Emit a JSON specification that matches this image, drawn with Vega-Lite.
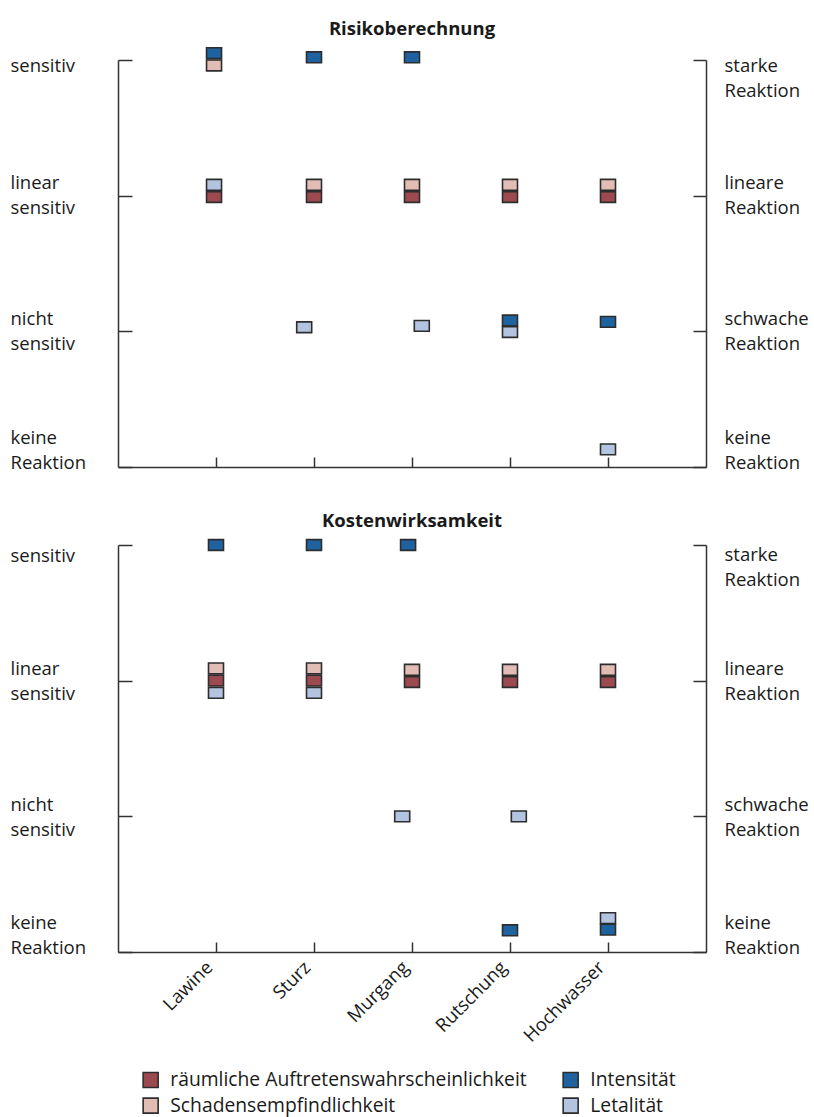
{
  "$schema": "https://vega.github.io/schema/vega-lite/v6.json",
  "padding": {"left": 10, "top": 20, "right": 0, "bottom": 0},
  "data": {"values": [
    {"panel": "Risikoberechnung", "gefahr": "Lawine", "x": 0.98, "param": "Intensität", "level": 3.05},
    {"panel": "Risikoberechnung", "gefahr": "Lawine", "x": 0.98, "param": "Schadensempfindlichkeit", "level": 2.96},
    {"panel": "Risikoberechnung", "gefahr": "Lawine", "x": 0.98, "param": "Letalität", "level": 2.08},
    {"panel": "Risikoberechnung", "gefahr": "Lawine", "x": 0.98, "param": "räumliche Auftretenswahrscheinlichkeit", "level": 1.99},
    {"panel": "Risikoberechnung", "gefahr": "Sturz", "x": 2.0, "param": "Intensität", "level": 3.02},
    {"panel": "Risikoberechnung", "gefahr": "Sturz", "x": 2.0, "param": "Schadensempfindlichkeit", "level": 2.08},
    {"panel": "Risikoberechnung", "gefahr": "Sturz", "x": 2.0, "param": "räumliche Auftretenswahrscheinlichkeit", "level": 1.99},
    {"panel": "Risikoberechnung", "gefahr": "Sturz", "x": 1.9, "param": "Letalität", "level": 1.03},
    {"panel": "Risikoberechnung", "gefahr": "Murgang", "x": 3.0, "param": "Intensität", "level": 3.02},
    {"panel": "Risikoberechnung", "gefahr": "Murgang", "x": 3.0, "param": "Schadensempfindlichkeit", "level": 2.08},
    {"panel": "Risikoberechnung", "gefahr": "Murgang", "x": 3.0, "param": "räumliche Auftretenswahrscheinlichkeit", "level": 1.99},
    {"panel": "Risikoberechnung", "gefahr": "Murgang", "x": 3.1, "param": "Letalität", "level": 1.04},
    {"panel": "Risikoberechnung", "gefahr": "Rutschung", "x": 4.0, "param": "Schadensempfindlichkeit", "level": 2.08},
    {"panel": "Risikoberechnung", "gefahr": "Rutschung", "x": 4.0, "param": "räumliche Auftretenswahrscheinlichkeit", "level": 1.99},
    {"panel": "Risikoberechnung", "gefahr": "Rutschung", "x": 4.0, "param": "Intensität", "level": 1.08},
    {"panel": "Risikoberechnung", "gefahr": "Rutschung", "x": 4.0, "param": "Letalität", "level": 0.995},
    {"panel": "Risikoberechnung", "gefahr": "Hochwasser", "x": 5.0, "param": "Schadensempfindlichkeit", "level": 2.08},
    {"panel": "Risikoberechnung", "gefahr": "Hochwasser", "x": 5.0, "param": "räumliche Auftretenswahrscheinlichkeit", "level": 1.99},
    {"panel": "Risikoberechnung", "gefahr": "Hochwasser", "x": 5.0, "param": "Intensität", "level": 1.07},
    {"panel": "Risikoberechnung", "gefahr": "Hochwasser", "x": 5.0, "param": "Letalität", "level": 0.13},
    {"panel": "Kostenwirksamkeit", "gefahr": "Lawine", "x": 1.0, "param": "Intensität", "level": 3.0},
    {"panel": "Kostenwirksamkeit", "gefahr": "Lawine", "x": 1.0, "param": "Schadensempfindlichkeit", "level": 2.09},
    {"panel": "Kostenwirksamkeit", "gefahr": "Lawine", "x": 1.0, "param": "räumliche Auftretenswahrscheinlichkeit", "level": 2.0},
    {"panel": "Kostenwirksamkeit", "gefahr": "Lawine", "x": 1.0, "param": "Letalität", "level": 1.91},
    {"panel": "Kostenwirksamkeit", "gefahr": "Sturz", "x": 2.0, "param": "Intensität", "level": 3.0},
    {"panel": "Kostenwirksamkeit", "gefahr": "Sturz", "x": 2.0, "param": "Schadensempfindlichkeit", "level": 2.09},
    {"panel": "Kostenwirksamkeit", "gefahr": "Sturz", "x": 2.0, "param": "räumliche Auftretenswahrscheinlichkeit", "level": 2.0},
    {"panel": "Kostenwirksamkeit", "gefahr": "Sturz", "x": 2.0, "param": "Letalität", "level": 1.91},
    {"panel": "Kostenwirksamkeit", "gefahr": "Murgang", "x": 2.96, "param": "Intensität", "level": 3.0},
    {"panel": "Kostenwirksamkeit", "gefahr": "Murgang", "x": 3.0, "param": "Schadensempfindlichkeit", "level": 2.08},
    {"panel": "Kostenwirksamkeit", "gefahr": "Murgang", "x": 3.0, "param": "räumliche Auftretenswahrscheinlichkeit", "level": 1.99},
    {"panel": "Kostenwirksamkeit", "gefahr": "Murgang", "x": 2.9, "param": "Letalität", "level": 1.0},
    {"panel": "Kostenwirksamkeit", "gefahr": "Rutschung", "x": 4.0, "param": "Schadensempfindlichkeit", "level": 2.08},
    {"panel": "Kostenwirksamkeit", "gefahr": "Rutschung", "x": 4.0, "param": "räumliche Auftretenswahrscheinlichkeit", "level": 1.99},
    {"panel": "Kostenwirksamkeit", "gefahr": "Rutschung", "x": 4.09, "param": "Letalität", "level": 1.0},
    {"panel": "Kostenwirksamkeit", "gefahr": "Rutschung", "x": 4.0, "param": "Intensität", "level": 0.16},
    {"panel": "Kostenwirksamkeit", "gefahr": "Hochwasser", "x": 5.0, "param": "Schadensempfindlichkeit", "level": 2.08},
    {"panel": "Kostenwirksamkeit", "gefahr": "Hochwasser", "x": 5.0, "param": "räumliche Auftretenswahrscheinlichkeit", "level": 1.99},
    {"panel": "Kostenwirksamkeit", "gefahr": "Hochwasser", "x": 5.0, "param": "Letalität", "level": 0.25},
    {"panel": "Kostenwirksamkeit", "gefahr": "Hochwasser", "x": 5.0, "param": "Intensität", "level": 0.165}
  ]},
  "spacing": 39,
  "resolve": {"scale": {"x": "independent", "y": "independent", "color": "shared"}, "legend": {"color": "shared"}},
  "vconcat": [
    {
      "title": {"text": "Risikoberechnung"},
      "width": 588,
      "height": 407,
      "transform": [{"filter": "datum.panel == 'Risikoberechnung'"}],
      "encoding": {
        "x": {"field": "x", "type": "quantitative", "scale": {"domain": [0, 6], "nice": false, "zero": false},
              "axis": {"values": [1, 2, 3, 4, 5], "labels": false, "tickSize": -10, "title": null}}
      },
      "layer": [
        {
          "mark": {"type": "point", "shape": "M-1,-0.72H1V0.72H-1Z", "size": 225, "filled": true, "opacity": 1, "stroke": "#2d2d2d", "strokeWidth": 1.6, "clip": false},
          "encoding": {
            "y": {"field": "level", "type": "quantitative", "scale": {"domain": [0, 3], "nice": false, "zero": false},
                  "axis": {"orient": "left", "values": [0, 1, 2, 3], "title": null, "tickSize": -14, "labelAlign": "left", "labelPadding": 122, "labelBaseline": "middle",
                           "labelOffset": {"condition": [{"test": "datum.value == 3", "value": 5}, {"test": "datum.value == 0", "value": -30}], "value": -13},
                           "labelExpr": "datum.value == 3 ? 'sensitiv' : datum.value == 2 ? ['linear', 'sensitiv'] : datum.value == 1 ? ['nicht', 'sensitiv'] : ['keine', 'Reaktion']"}},
            "color": {"field": "param", "type": "nominal",
                      "scale": {"domain": ["räumliche Auftretenswahrscheinlichkeit", "Intensität", "Schadensempfindlichkeit", "Letalität"],
                                "range": ["#9c4a4f", "#1e62a0", "#e2bdb5", "#b2c4e0"]},
                      "legend": {"title": null, "orient": "none", "legendX": 23, "legendY": 1010, "columns": 2, "direction": "horizontal", "symbolType": "square"}}
          }
        },
        {
          "mark": {"type": "point", "opacity": 0},
          "encoding": {
            "y": {"field": "level", "type": "quantitative", "scale": {"domain": [0, 3], "nice": false, "zero": false},
                  "axis": {"orient": "right", "values": [0, 1, 2, 3], "title": null, "tickSize": -13, "labelAlign": "left", "labelPadding": 31, "labelBaseline": "middle",
                           "labelOffset": {"condition": [{"test": "datum.value == 3", "value": 5}, {"test": "datum.value == 0", "value": -30}], "value": -13},
                           "labelExpr": "datum.value == 3 ? ['starke', 'Reaktion'] : datum.value == 2 ? ['lineare', 'Reaktion'] : datum.value == 1 ? ['schwache', 'Reaktion'] : ['keine', 'Reaktion']"}}
          }
        }
      ],
      "resolve": {"axis": {"y": "independent"}}
    },
    {
      "title": {"text": "Kostenwirksamkeit"},
      "width": 588,
      "height": 407,
      "transform": [{"filter": "datum.panel == 'Kostenwirksamkeit'"}],
      "encoding": {
        "x": {"field": "x", "type": "quantitative", "scale": {"domain": [0, 6], "nice": false, "zero": false},
              "axis": {"values": [1, 2, 3, 4, 5], "tickSize": -10, "title": null, "labelAngle": -45, "labelAlign": "right", "labelBaseline": "middle", "labelPadding": 22, "labelOffset": -7,
                       "labelExpr": "['', 'Lawine', 'Sturz', 'Murgang', 'Rutschung', 'Hochwasser'][datum.value]"}}
      },
      "layer": [
        {
          "mark": {"type": "point", "shape": "M-1,-0.72H1V0.72H-1Z", "size": 225, "filled": true, "opacity": 1, "stroke": "#2d2d2d", "strokeWidth": 1.6, "clip": false},
          "encoding": {
            "y": {"field": "level", "type": "quantitative", "scale": {"domain": [0, 3], "nice": false, "zero": false},
                  "axis": {"orient": "left", "values": [0, 1, 2, 3], "title": null, "tickSize": -14, "labelAlign": "left", "labelPadding": 122, "labelBaseline": "middle",
                           "labelOffset": {"condition": [{"test": "datum.value == 3", "value": 10}, {"test": "datum.value == 0", "value": -30}], "value": -12},
                           "labelExpr": "datum.value == 3 ? 'sensitiv' : datum.value == 2 ? ['linear', 'sensitiv'] : datum.value == 1 ? ['nicht', 'sensitiv'] : ['keine', 'Reaktion']"}},
            "color": {"field": "param", "type": "nominal",
                      "scale": {"domain": ["räumliche Auftretenswahrscheinlichkeit", "Intensität", "Schadensempfindlichkeit", "Letalität"],
                                "range": ["#9c4a4f", "#1e62a0", "#e2bdb5", "#b2c4e0"]},
                      "legend": {"title": null, "orient": "none", "legendX": 23, "legendY": 1010, "columns": 2, "direction": "horizontal", "symbolType": "square"}}
          }
        },
        {
          "mark": {"type": "point", "opacity": 0},
          "encoding": {
            "y": {"field": "level", "type": "quantitative", "scale": {"domain": [0, 3], "nice": false, "zero": false},
                  "axis": {"orient": "right", "values": [0, 1, 2, 3], "title": null, "tickSize": -13, "labelAlign": "left", "labelPadding": 31, "labelBaseline": "middle",
                           "labelOffset": {"condition": [{"test": "datum.value == 3", "value": 9}, {"test": "datum.value == 0", "value": -30}], "value": -12},
                           "labelExpr": "datum.value == 3 ? ['starke', 'Reaktion'] : datum.value == 2 ? ['lineare', 'Reaktion'] : datum.value == 1 ? ['schwache', 'Reaktion'] : ['keine', 'Reaktion']"}}
          }
        }
      ],
      "resolve": {"axis": {"y": "independent"}}
    }
  ],
  "config": {
    "view": {"stroke": null},
    "font": "Open Sans",
    "axis": {"grid": false, "domainColor": "#333333", "tickColor": "#333333", "domainWidth": 1.5, "tickWidth": 1.5,
             "labelFont": "Open Sans", "labelFontSize": 18.5, "labelColor": "#1a1a1a", "labelLineHeight": 25, "labelLimit": 0, "labelOverlap": false},
    "title": {"font": "Open Sans", "fontSize": 18.5, "fontWeight": "bold", "color": "#1a1a1a", "anchor": "middle", "frame": "group", "offset": 6},
    "legend": {"labelFont": "Open Sans", "labelFontSize": 19.3, "labelColor": "#1a1a1a", "labelLimit": 0, "symbolSize": 225,
               "symbolStrokeColor": "#2d2d2d", "symbolStrokeWidth": 1.6, "symbolOpacity": 1, "labelOffset": 10, "columnPadding": 32, "rowPadding": 3, "padding": 0}
  }
}
